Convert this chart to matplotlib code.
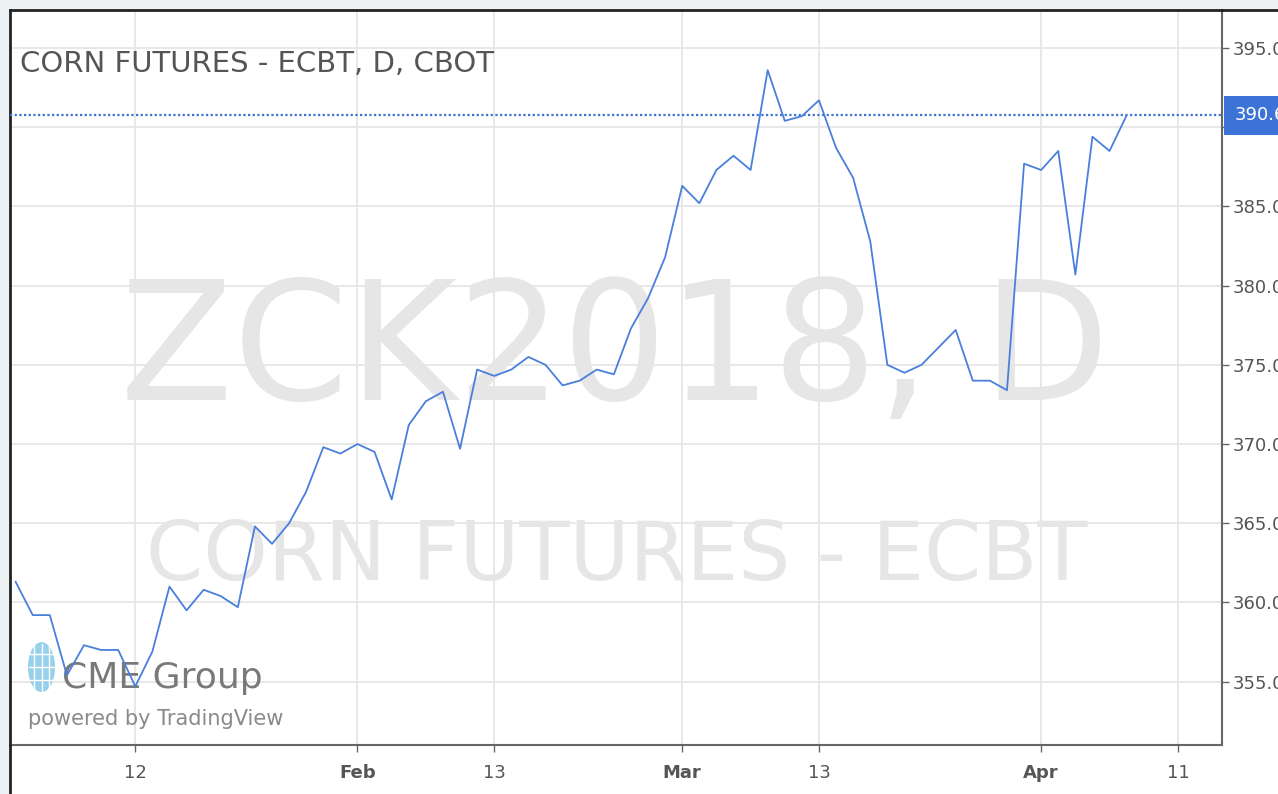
import matplotlib.pyplot as plt
from matplotlib.patches import Ellipse, Rectangle
from matplotlib.lines import Line2D

# Daily closes, ZCK2018 (trading days from Jan 3 to Apr 9, 2018)
closes = [
    361.3, 359.2, 359.2, 355.4, 357.3, 357.0, 357.0, 354.7, 356.9, 361.0,
    359.5, 360.8, 360.4, 359.7, 364.8, 363.7, 365.0, 367.0, 369.8, 369.4,
    370.0, 369.5, 366.5, 371.2, 372.7, 373.3, 369.7, 374.7, 374.3, 374.7,
    375.5, 375.0, 373.7, 374.0, 374.7, 374.4, 377.3, 379.2, 381.8, 386.3,
    385.2, 387.3, 388.2, 387.3, 393.6, 390.4, 390.7, 391.7, 388.7, 386.8,
    382.8, 375.0, 374.5, 375.0, 376.1, 377.2, 374.0, 374.0, 373.4, 387.7,
    387.3, 388.5, 380.7, 389.4, 388.5, 390.75,
]
last_label = "390.6"

# x tick labels at trading-day index positions
xtick_pos = [7, 20, 28, 39, 47, 60, 68]
xtick_labels = ["12", "Feb", "13", "Mar", "13", "Apr", "11"]
month_labels = {"Feb", "Mar", "Apr"}
ytick_vals = [355, 360, 365, 370, 375, 380, 385, 390, 395]

LINE = '#4a7fdb'
TXT = '#555555'
GRID = '#e6e6e6'
WM = '#e6e6e6'

plt.rcParams['font.family'] = ['DejaVu Sans']

W, H = 1278, 794
fig = plt.figure(figsize=(W / 100, H / 100), dpi=100)
fig.patch.set_facecolor('white')
ax = fig.add_axes([10 / W, 1 - 745 / H, 1212 / W, 735 / H])
ax.set_facecolor('white')

# light frame strips (top and left)
fig.add_artist(Rectangle((0, 1 - 10 / H), 1, 10 / H, transform=fig.transFigure,
                         facecolor='#eef1f4', edgecolor='none', zorder=0))
fig.add_artist(Rectangle((0, 0), 10 / W, 1, transform=fig.transFigure,
                         facecolor='#eef1f4', edgecolor='none', zorder=0))

x = list(range(len(closes)))
ax.plot(x, closes, color=LINE, linewidth=1.3, zorder=5)
ax.axhline(closes[-1], color='#3d73d6', linewidth=1.6, linestyle=(0, (1, 1.1)), zorder=4)

ax.set_xlim(-0.33, 70.58)
ax.set_ylim(351.0, 397.4)

ax.set_xticks(xtick_pos)
ax.set_xticklabels(xtick_labels)
for lbl in ax.get_xticklabels():
    if lbl.get_text() in month_labels:
        lbl.set_fontweight('bold')
        lbl.set_color('#444444')
ax.set_yticks(ytick_vals)
ax.set_yticklabels(["" if v == 390 else f"{v:.1f}" for v in ytick_vals])
ax.yaxis.tick_right()
ax.tick_params(axis='both', colors='#666666', labelcolor=TXT, labelsize=13, length=5, width=1)
ax.tick_params(axis='x', pad=9)
ax.tick_params(axis='y', pad=3)
ax.grid(True, color=GRID, linewidth=1.3, zorder=0)
ax.set_axisbelow(True)

for side in ['top', 'left']:
    ax.spines[side].set_color('#222222')
    ax.spines[side].set_linewidth(2)
for side in ['bottom', 'right']:
    ax.spines[side].set_color('#666666')
    ax.spines[side].set_linewidth(1.5)

# watermarks
ax.text(0.499, 0.469, "ZCK2018, D", transform=ax.transAxes, ha='center', va='baseline',
        fontsize=119, color=WM, zorder=1, clip_on=True)
ax.text(0.501, 0.2245, "CORN FUTURES - ECBT", transform=ax.transAxes, ha='center', va='baseline',
        fontsize=59, color=WM, zorder=1, clip_on=True)

# title
ax.text(0.00825, 0.9156, "CORN FUTURES - ECBT, D, CBOT", transform=ax.transAxes,
        ha='left', va='baseline', fontsize=21, color=TXT, zorder=6)

# CME Group logo
cx, cy = 0.026, 0.106
globe = Ellipse((cx, cy), 0.0223, 0.068, transform=ax.transAxes,
                facecolor='#8ccbe8', edgecolor='none', alpha=0.9, zorder=2)
ax.add_patch(globe)
for dx in [-0.006, 0.0, 0.006]:
    ax.add_line(Line2D([cx + dx, cx + dx], [cy - 0.032, cy + 0.032], transform=ax.transAxes,
                       color='white', linewidth=1, zorder=3))
for dy in [-0.018, 0.0, 0.018]:
    ax.add_line(Line2D([cx - 0.010, cx + 0.010], [cy + dy, cy + dy], transform=ax.transAxes,
                       color='white', linewidth=1, zorder=3))
ax.text(0.0429, 0.0776, "CME Group", transform=ax.transAxes, ha='left', va='baseline',
        fontsize=26, color='#6b6b6b', alpha=0.9, zorder=3)
ax.text(0.0149, 0.0272, "powered by TradingView", transform=ax.transAxes, ha='left', va='baseline',
        fontsize=15, color='#8a8a8a', zorder=3)

# last price label on the price scale
ax.annotate(last_label, xy=(1.0, closes[-1]), xycoords=('axes fraction', 'data'),
            xytext=(9, 0), textcoords='offset points', ha='left', va='center',
            fontsize=13, color='white', zorder=10, annotation_clip=False,
            bbox=dict(boxstyle='square,pad=0.6', facecolor='#3d73d6', edgecolor='none'))

# outer border: left edge down to the bottom, top edge across the price scale
fig.add_artist(Line2D([10 / W, 10 / W], [0, 1 - 745 / H], color='#222222', linewidth=2))
fig.add_artist(Line2D([1222 / W, 1], [1 - 10 / H, 1 - 10 / H], color='#222222', linewidth=2))

fig.savefig('out.png', dpi=100)
